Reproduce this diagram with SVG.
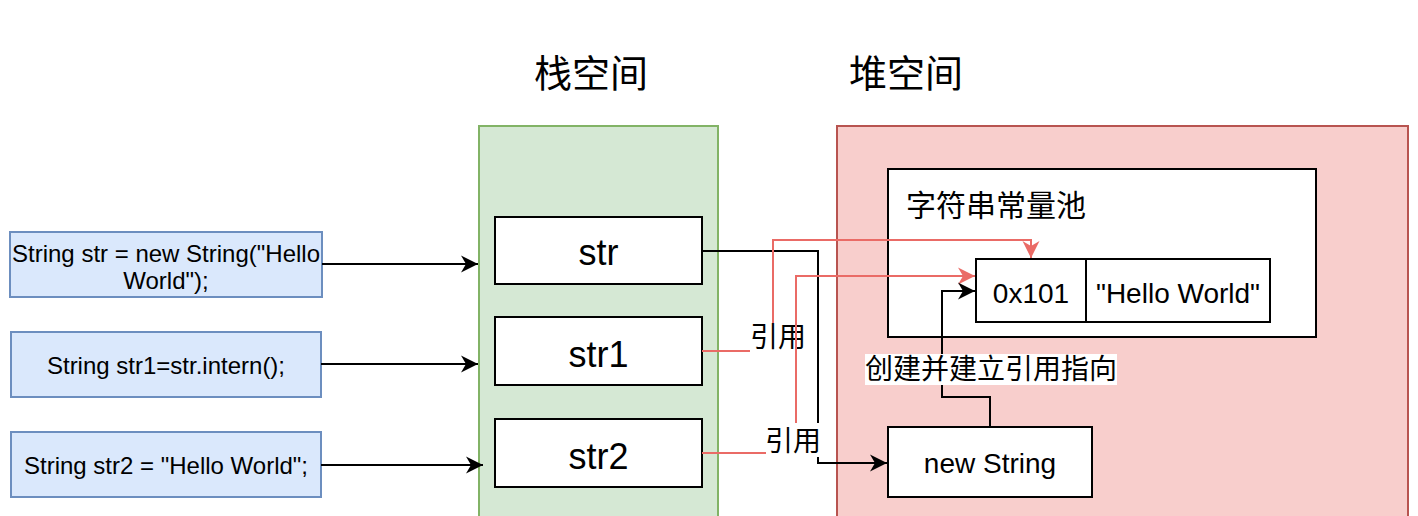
<svg xmlns="http://www.w3.org/2000/svg" width="1418" height="516" viewBox="0 0 1418 516">
  <style>
    text { font-family: "Liberation Sans", "Noto Sans CJK SC", sans-serif; fill: #000; }
    .cjk { font-family: "Noto Sans CJK SC", "Liberation Sans", sans-serif; }
    .code { fill: #dae8fc; stroke: #6c8ebf; stroke-width: 2; }
    .box { fill: #ffffff; stroke: #000; stroke-width: 2; }
    .stack { fill: #d5e8d4; stroke: #82b366; stroke-width: 2; }
    .heap { fill: #f8cecc; stroke: #b85450; stroke-width: 2; }
    .edge { fill: none; stroke: #000; stroke-width: 2; }
    .red { fill: none; stroke: #ea6b66; stroke-width: 2; }
    .lblbg { fill: #ffffff; stroke: none; }
    .t24 { font-size: 24px; }
    .t28 { font-size: 28px; }
    .t36 { font-size: 36px; }
  </style>
  <defs>
    <marker id="arrowBlack" markerUnits="userSpaceOnUse" markerWidth="18" markerHeight="18" refX="17" refY="8.5" orient="auto" viewBox="0 0 18 17">
      <path d="M0,0 L17,8.5 L0,17 L5,8.5 Z" fill="#000"/>
    </marker>
    <marker id="arrowRed" markerUnits="userSpaceOnUse" markerWidth="18" markerHeight="18" refX="17" refY="8.5" orient="auto" viewBox="0 0 18 17">
      <path d="M0,0 L17,8.5 L0,17 L5,8.5 Z" fill="#ea6b66"/>
    </marker>
  </defs>

  <rect x="0" y="0" width="1418" height="516" fill="#ffffff"/>

  <g id="title-stack">
    <text class="cjk" x="591" y="87" font-size="38" text-anchor="middle">栈空间</text>
  </g>
  <g id="title-heap">
    <text class="cjk" x="906" y="87" font-size="38" text-anchor="middle">堆空间</text>
  </g>

  <g id="stack-space">
    <rect class="stack" x="479" y="126" width="239" height="420"/>
  </g>
  <g id="heap-space">
    <rect class="heap" x="837" y="126" width="571" height="420"/>
  </g>

  <g id="code1">
    <rect class="code" x="10" y="232" width="312" height="65"/>
    <text class="t24" x="166" y="261.5" text-anchor="middle">String str = new String("Hello</text>
    <text class="t24" x="166" y="289" text-anchor="middle">World");</text>
  </g>
  <g id="code2">
    <rect class="code" x="11" y="332" width="310" height="65"/>
    <text class="t24" x="166" y="373.5" text-anchor="middle">String str1=str.intern();</text>
  </g>
  <g id="code3">
    <rect class="code" x="11" y="432" width="310" height="65"/>
    <text class="t24" x="166" y="473.5" text-anchor="middle">String str2 = "Hello World";</text>
  </g>

  <g id="var-str">
    <rect class="box" x="495" y="217" width="207" height="67"/>
    <text class="t36" x="598.5" y="265" text-anchor="middle">str</text>
  </g>
  <g id="var-str1">
    <rect class="box" x="495" y="317" width="207" height="68"/>
    <text class="t36" x="598.5" y="367" text-anchor="middle">str1</text>
  </g>
  <g id="var-str2">
    <rect class="box" x="495" y="419" width="207" height="68"/>
    <text class="t36" x="598.5" y="469" text-anchor="middle">str2</text>
  </g>

  <g id="string-pool">
    <rect class="box" x="888" y="169" width="428" height="168"/>
    <text class="cjk" x="906" y="216" font-size="30">字符串常量池</text>
  </g>
  <g id="pool-entry">
    <rect class="box" x="976" y="259" width="110" height="63"/>
    <text class="t28" x="1031" y="303" text-anchor="middle">0x101</text>
    <rect class="box" x="1086" y="259" width="184" height="63"/>
    <text class="t28" x="1178" y="303" text-anchor="middle">"Hello World"</text>
  </g>
  <g id="new-string">
    <rect class="box" x="888" y="427" width="204" height="70"/>
    <text class="t28" x="990" y="473" text-anchor="middle">new String</text>
  </g>

  <g id="connectors">
    <path class="edge" d="M322,264 L478,264" marker-end="url(#arrowBlack)"/>
    <path class="edge" d="M321,364 L478,364" marker-end="url(#arrowBlack)"/>
    <path class="edge" d="M321,465 L483,465" marker-end="url(#arrowBlack)"/>

    <path class="edge" d="M702,251 L818,251 L818,463 L887,463" marker-end="url(#arrowBlack)"/>

    <path class="red" d="M702,351 L773,351 L773,240 L1031,240 L1031,258" marker-end="url(#arrowRed)"/>
    <rect class="lblbg" x="750" y="323" width="56" height="30"/>
    <text class="cjk" x="778" y="347" font-size="28" text-anchor="middle">引用</text>

    <path class="red" d="M702,453 L796,453 L796,276 L975,276" marker-end="url(#arrowRed)"/>
    <rect class="lblbg" x="766" y="423" width="54" height="34"/>
    <text class="cjk" x="793" y="451" font-size="28" text-anchor="middle">引用</text>

    <path class="edge" d="M990,427 L990,397 L942,397 L942,291 L975,291" marker-end="url(#arrowBlack)"/>
    <rect class="lblbg" x="865" y="354" width="252" height="31"/>
    <text class="cjk" x="991" y="379" font-size="28" text-anchor="middle">创建并建立引用指向</text>
  </g>
</svg>
